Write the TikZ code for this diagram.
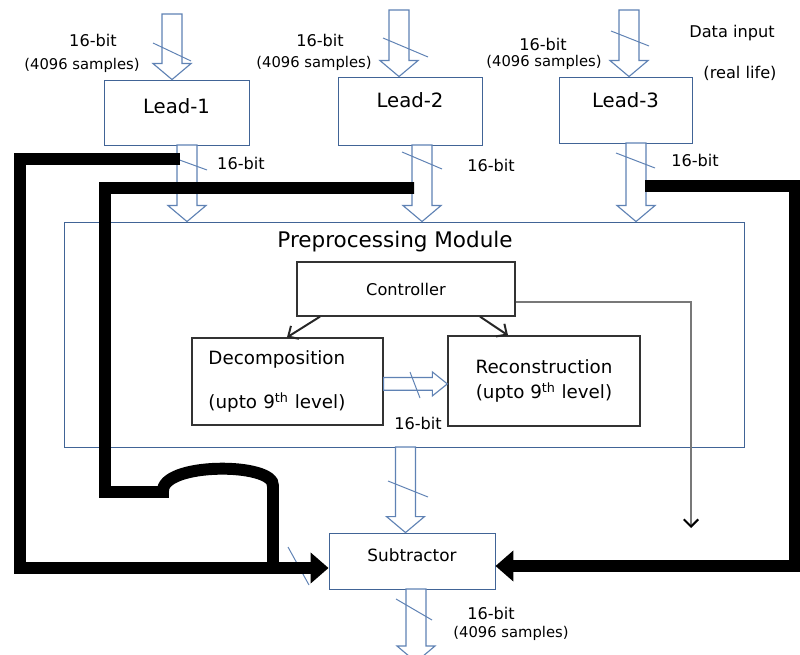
\documentclass[tikz,border=0pt]{standalone}
\usepackage{fontspec}
\setmainfont{DejaVu Sans}
\usetikzlibrary{arrows.meta,calc,positioning}
\definecolor{bx}{RGB}{65,100,150}
\definecolor{ar}{RGB}{95,130,180}
\definecolor{gl}{RGB}{120,120,120}

% hollow block arrows (from, tip)
\newcommand{\fatdown}[2]{%
  \draw[hol] let \p1=#1, \p2=#2 in
    (\x1-0.25cm,\y1) -- (\x1-0.25cm,\y2+0.4cm) -- (\x1-0.475cm,\y2+0.4cm) -- (\x1,\y2)
    -- (\x1+0.475cm,\y2+0.4cm) -- (\x1+0.25cm,\y2+0.4cm) -- (\x1+0.25cm,\y1) -- cycle;}
\newcommand{\fatright}[2]{%
  \draw[hol] let \p1=#1, \p2=#2 in
    (\x1,\y1+0.16cm) -- (\x2-0.375cm,\y1+0.16cm) -- (\x2-0.375cm,\y1+0.3cm) -- (\x2,\y1)
    -- (\x2-0.375cm,\y1-0.3cm) -- (\x2-0.375cm,\y1-0.16cm) -- (\x1,\y1-0.16cm) -- cycle;}

\begin{document}
\begin{tikzpicture}[x=0.025cm,y=-0.025cm,
    blk/.style={rectangle,draw=bx,line width=0.6pt,font=\fontsize{14}{17}\selectfont},
    inbox/.style={rectangle,draw=black!80,line width=0.9pt,font=\fontsize{13}{16}\selectfont},
    hol/.style={draw=ar,line width=0.8pt,fill=white},
    sl/.style={ar,line width=0.7pt},
    thk/.style={line width=8.5pt},
    bigtip/.style={-{Triangle[length=4.5mm,width=7.5mm]}},
    ctl/.style={black!85,line width=1.4pt,-{Straight Barb[length=2mm,width=3.8mm]}},
    lbl/.style={font=\fontsize{11.5}{14}\selectfont},
    sml/.style={font=\fontsize{10.5}{13}\selectfont},
]
\useasboundingbox (0,0) rectangle (800,655);
\clip (0,0) rectangle (800,655);

% leads
\node[blk,minimum width=3.625cm,minimum height=1.625cm,text depth=0.3cm] (lead1) at (176.5,112.5) {Lead-1};
\node[blk,minimum width=3.6cm,minimum height=1.7cm,text depth=0.55cm] (lead2) at (410,111) {Lead-2};
\node[blk,minimum width=3.325cm,minimum height=1.65cm,text depth=0.5cm] (lead3) at (625.5,110) {Lead-3};

% preprocessing module
\node[rectangle,draw=bx,line width=0.6pt,minimum width=16.975cm,minimum height=5.625cm] (pre) at (404.5,334.5) {};
\node[font=\fontsize{15.3}{18}\selectfont] (title) at (395,242) {Preprocessing Module};
\node[inbox,font=\fontsize{11.5}{14}\selectfont,minimum width=5.45cm,minimum height=1.35cm] (ctrl) at (406,289) {Controller};
\node[inbox,align=left,text width=3.95cm,minimum width=4.775cm,minimum height=2.175cm] (dec) at (287.5,381.5)
  {Decomposition\\[0.55cm](upto 9\textsuperscript{th} level)};
\node[inbox,align=center,minimum width=4.8cm,minimum height=2.25cm] (rec) at (544,381)
  {Reconstruction\\[0.05cm](upto 9\textsuperscript{th} level)};

\node[blk,font=\fontsize{12}{14}\selectfont,minimum width=4.15cm,minimum height=1.4cm,text depth=0.3cm] (sub) at (412,561) {Subtractor};

% inputs and outputs
\coordinate (in1) at (172,14);
\coordinate (in2) at (399,10);
\coordinate (in3) at (629,10);
\coordinate (o1) at (187,145);
\coordinate (o2) at (422,145);
\coordinate (o3) at (636,143);
\coordinate (pm) at (405.5,447);
\coordinate (so) at (416,589);
\coordinate (send) at (416,662);

\fatdown{(in1)}{(lead1.north -| in1)}
\fatdown{(in2)}{(lead2.north -| in2)}
\fatdown{(in3)}{(lead3.north -| in3)}
\fatdown{(o1)}{(pre.north -| o1)}
\fatdown{(o2)}{(pre.north -| o2)}
\fatdown{(o3)}{(pre.north -| o3)}
\fatdown{(pm)}{(sub.north -| pm)}
\fatdown{(so)}{(send)}
\fatright{([yshift=-0.06cm]dec.east)}{([yshift=-0.06cm]rec.west)}

% bus-width slashes
\draw[sl] (153,43) -- (191,61);
\draw[sl] (383,38) -- (428,57);
\draw[sl] (611,31) -- (649,46);
\draw[sl] (174,158) -- (207,170);
\draw[sl] (402,152) -- (442,169);
\draw[sl] (616,153) -- (655,168);
\draw[sl] (410,372) -- (420,398);
\draw[sl] (388,481) -- (428,497);
\draw[sl] (288,547) -- (309,585);
\draw[sl] (396,599) -- (432,620);

% controller links
\coordinate (cl) at (320,0);
\coordinate (cr) at (480,0);
\coordinate (dl) at (287,0);
\coordinate (rr) at (508,0);
\coordinate (gend) at (691,528);
\draw[ctl] (ctrl.south -| cl) -- (dec.north -| dl);
\draw[ctl] (ctrl.south -| cr) -- (rec.north -| rr);
\draw[gl,line width=1.4pt,-{Straight Barb[length=1.8mm,width=3.6mm,color=black]}]
  ([yshift=-0.33cm]ctrl.east) -| (gend);

% thick feedback lines
\coordinate (j1) at (180,159);
\coordinate (j2) at (414,188);
\coordinate (j3) at (645,186);
\draw[thk,bigtip] (j1) -- (20,159) |- ([yshift=-0.175cm]sub.west);
\draw[thk] (j2) -- (105,188) -- (105,492) -- (163,492)
  .. controls (160,462) and (275,462) .. (273,486) -- (273,568);
\draw[thk,bigtip] (j3) -- (795,186) |- ([yshift=-0.125cm]sub.east);

% labels
\node[lbl] (b1) at (93,40) {16-bit};
\node[sml] (s1) at (82,65) {(4096 samples)};
\node[lbl] (b2) at (320,40) {16-bit};
\node[sml] (s2) at (314,63) {(4096 samples)};
\node[lbl] (b3) at (543,44) {16-bit};
\node[sml] (s3) at (544,62) {(4096 samples)};
\node[lbl] (din) at (732,33) {Data input};
\node[lbl] (real) at (740,73) {(real life)};
\node[lbl] (b4) at (241,163) {16-bit};
\node[lbl] (b5) at (491,165) {16-bit};
\node[lbl] (b6) at (695,160) {16-bit};
\node[lbl] (b7) at (418,423) {16-bit};
\node[lbl] (b8) at (491,613) {16-bit};
\node[sml] (s8) at (511,633) {(4096 samples)};
\end{tikzpicture}
\end{document}
